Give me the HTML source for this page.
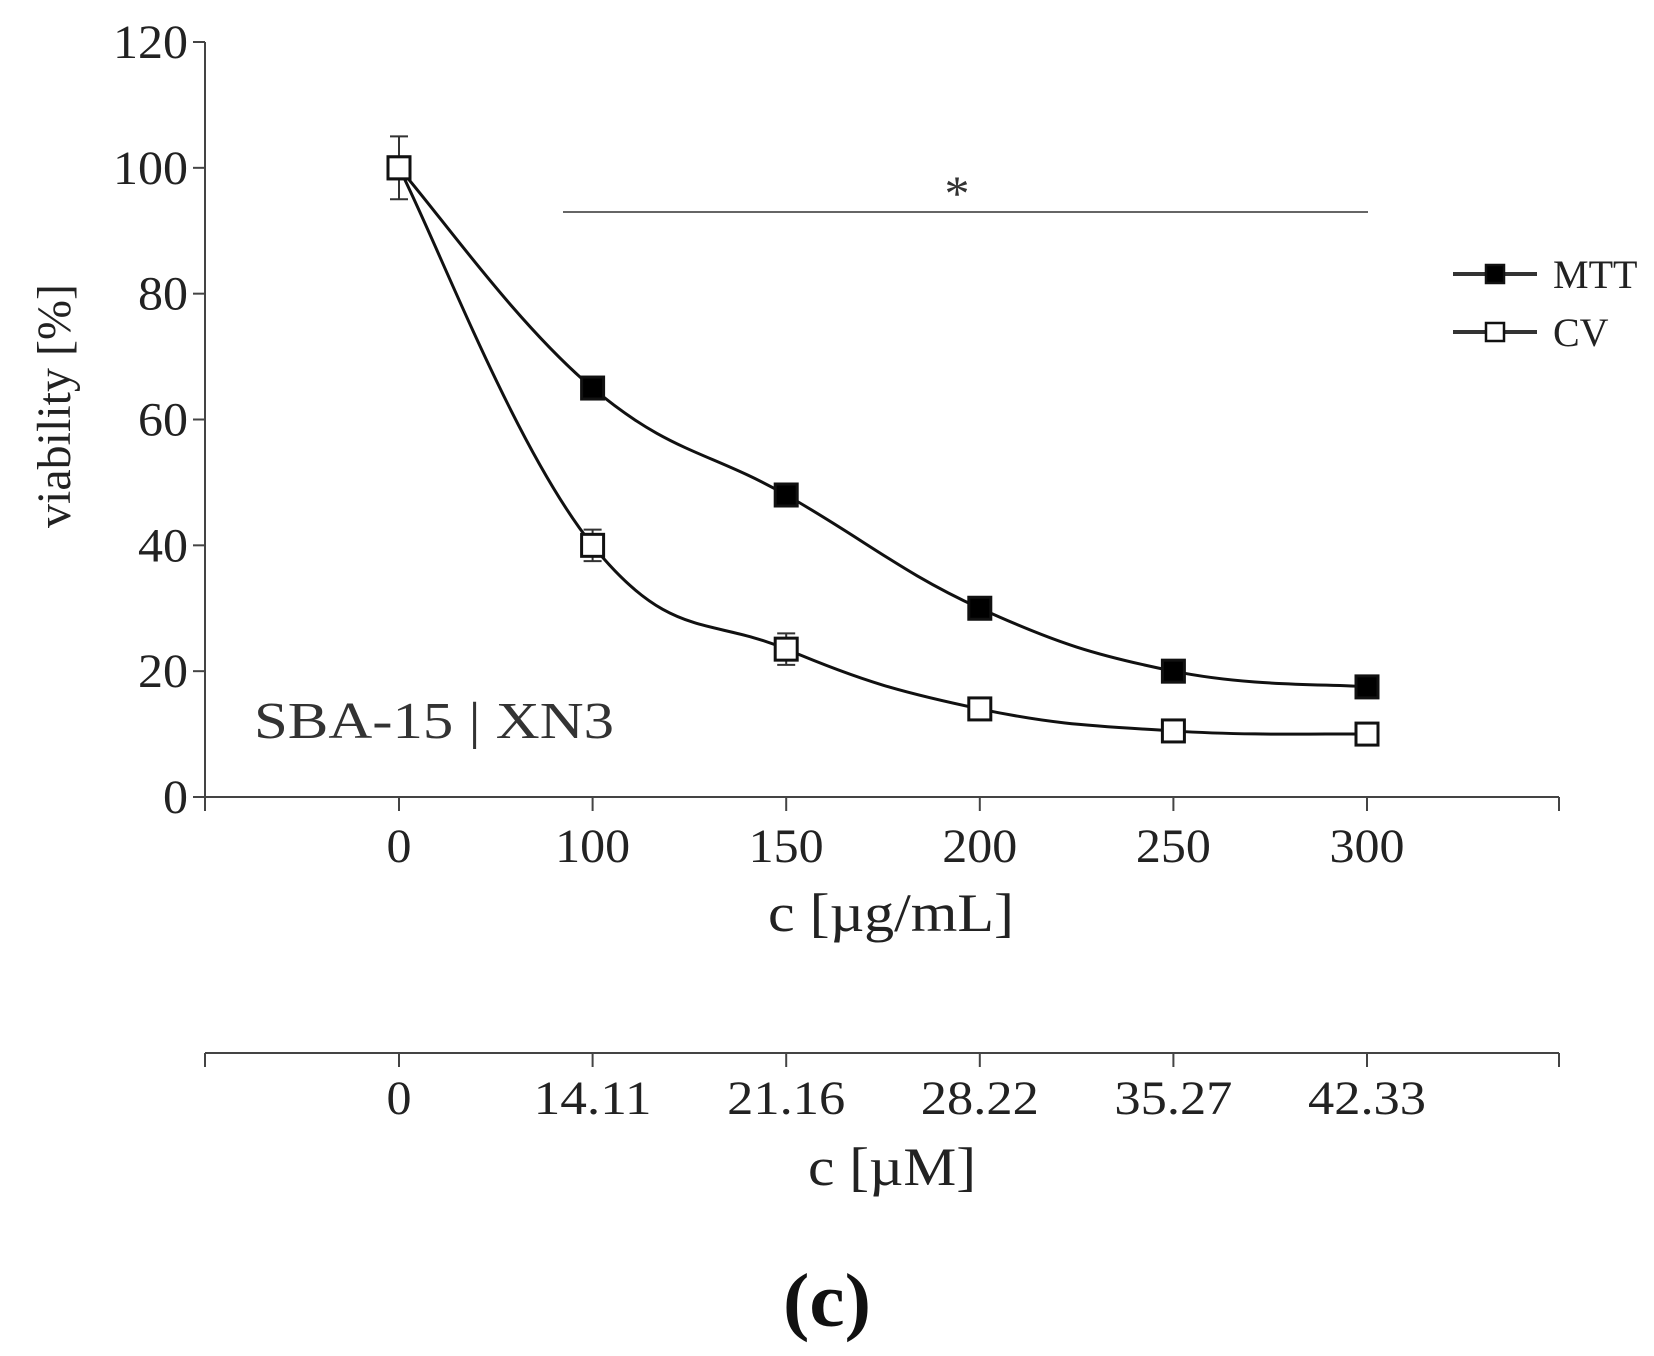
<!DOCTYPE html>
<html><head><meta charset="utf-8"><style>
html,body{margin:0;padding:0;background:#fff;}
svg{display:block;font-family:"Liberation Serif",serif;}
</style></head><body>
<svg id="chart" width="1654" height="1356" viewBox="0 0 1654 1356"></svg>
<script>
const categories = ["0","100","150","200","250","300"];
const micromolarLabels = ["0","14.11","21.16","28.22","35.27","42.33"];
const mttValues = [100, 65, 48, 30, 20, 17.5];
const mttErrors = [0, 1, 1, 1, 1, 1];
const cvValues = [100, 40, 23.5, 14, 10.5, 10];
const cvErrors = [5, 2.5, 2.5, 1, 1, 1];
const yTicks = [0, 20, 40, 60, 80, 100, 120];

const NS = "http://www.w3.org/2000/svg";
const svg = document.getElementById("chart");
const X0 = 205, X1 = 1559, Y0 = 797, Y120 = 42;
const xs = i => 399 + i * 193.6;
const ys = v => Y0 - (v / 120) * (Y0 - Y120);
function mk(tag, attrs, parent) {
  const e = document.createElementNS(NS, tag);
  for (const k in attrs) e.setAttribute(k, attrs[k]);
  (parent || svg).appendChild(e);
  return e;
}
function txt(s, attrs) { const t = mk("text", attrs); t.textContent = s; return t; }

const yAxis = mk("g", {});


mk("line", {x1: X0, y1: Y120, x2: X0, y2: Y0, stroke: "#444", "stroke-width": 2}, yAxis);
yTicks.forEach(v => {
  mk("line", {x1: X0 - 12, y1: ys(v), x2: X0, y2: ys(v), stroke: "#444", "stroke-width": 2}, yAxis);
  const t = txt(String(v), {x: X0 - 17, y: ys(v) + 16, "text-anchor": "end", "font-size": 48, fill: "#222", textLength: String(v).length * 25, lengthAdjust: "spacingAndGlyphs"});
  
  
});
const yl = txt("viability [%]", {x: 0, y: 0, transform: "translate(70,406) rotate(-90)", "text-anchor": "middle", "font-size": 48, fill: "#222"});



const xAxis = mk("g", {});


mk("line", {x1: X0, y1: Y0, x2: X1, y2: Y0, stroke: "#444", "stroke-width": 2}, xAxis);
[X0, X1].forEach(x => mk("line", {x1: x, y1: Y0, x2: x, y2: Y0 + 14, stroke: "#444", "stroke-width": 2}, xAxis));
categories.forEach((c, i) => {
  mk("line", {x1: xs(i), y1: Y0, x2: xs(i), y2: Y0 + 14, stroke: "#444", "stroke-width": 2}, xAxis);
  const t = txt(c, {x: xs(i), y: 862, "text-anchor": "middle", "font-size": 48, fill: "#222", textLength: c.length * 25, lengthAdjust: "spacingAndGlyphs"});
  
  
});
const xt = txt("c [µg/mL]", {x: 891, y: 931, "text-anchor": "middle", "font-size": 54, fill: "#222", textLength: 246, lengthAdjust: "spacingAndGlyphs"});



const Y2 = 1053;
const xAxis2 = mk("g", {});


mk("line", {x1: X0, y1: Y2, x2: X1, y2: Y2, stroke: "#444", "stroke-width": 2}, xAxis2);
[X0, X1].forEach(x => mk("line", {x1: x, y1: Y2, x2: x, y2: Y2 + 14, stroke: "#444", "stroke-width": 2}, xAxis2));
micromolarLabels.forEach((c, i) => {
  mk("line", {x1: xs(i), y1: Y2, x2: xs(i), y2: Y2 + 14, stroke: "#444", "stroke-width": 2}, xAxis2);
  const t = txt(c, {x: xs(i), y: 1114, "text-anchor": "middle", "font-size": 48, fill: "#222", textLength: c.length === 1 ? 25 : 118, lengthAdjust: "spacingAndGlyphs"});
  
  
});
const xt2 = txt("c [µM]", {x: 892, y: 1185, "text-anchor": "middle", "font-size": 54, fill: "#222", textLength: 168, lengthAdjust: "spacingAndGlyphs"});



const sig = mk("line", {x1: 563, y1: 212, x2: 1368, y2: 212, stroke: "#666", "stroke-width": 2});


const star = txt("*", {x: 957, y: 210, "text-anchor": "middle", "font-size": 50, fill: "#333"});



const lab = txt("SBA-15 | XN3", {x: 254, y: 738, "font-size": 52, fill: "#333", textLength: 360, lengthAdjust: "spacingAndGlyphs"});



function smoothPath(vals) {
  const p = vals.map((v, i) => [xs(i), ys(v)]);
  let d = `M${p[0][0]},${p[0][1]}`;
  for (let i = 0; i < p.length - 1; i++) {
    const p0 = p[i - 1] || p[i], p1 = p[i], p2 = p[i + 1], p3 = p[i + 2] || p2;
    const t = 0.2;
    const c1 = [p1[0] + (p2[0] - p0[0]) * t, p1[1] + (p2[1] - p0[1]) * t];
    const c2 = [p2[0] - (p3[0] - p1[0]) * t, p2[1] - (p3[1] - p1[1]) * t];
    d += ` C${c1[0]},${c1[1]} ${c2[0]},${c2[1]} ${p2[0]},${p2[1]}`;
  }
  return d;
}
function series(vals, errs, fill, name) {
  const g = mk("g", {});
  
  
  mk("path", {d: smoothPath(vals), fill: "none", stroke: "#111", "stroke-width": 3}, g);
  vals.forEach((v, i) => {
    const e = errs[i];
    if (e > 0) {
      mk("line", {x1: xs(i), y1: ys(v + e), x2: xs(i), y2: ys(v - e), stroke: "#333", "stroke-width": 2}, g);
      mk("line", {x1: xs(i) - 9, y1: ys(v + e), x2: xs(i) + 9, y2: ys(v + e), stroke: "#333", "stroke-width": 2}, g);
      mk("line", {x1: xs(i) - 9, y1: ys(v - e), x2: xs(i) + 9, y2: ys(v - e), stroke: "#333", "stroke-width": 2}, g);
    }
    const r = mk("rect", {x: xs(i) - 11, y: ys(v) - 11, width: 22, height: 22, fill: fill, stroke: "#111", "stroke-width": 3}, g);
    
    
  });
}
series(mttValues, mttErrors, "#000", "mtt");
series(cvValues, cvErrors, "#fff", "cv");

function legend(y, fill, label, name) {
  const g = mk("g", {});
  
  
  mk("line", {x1: 1453, y1: y, x2: 1537, y2: y, stroke: "#333", "stroke-width": 4}, g);
  mk("rect", {x: 1486, y: y - 9, width: 18, height: 18, fill: fill, stroke: "#111", "stroke-width": 2.5}, g);
  const t = mk("text", {x: 1553, y: y + 14, "font-size": 40, fill: "#222"}, g);
  t.textContent = label;
}
legend(274, "#000", "MTT", "mtt");
legend(332, "#fff", "CV", "cv");

const cap = txt("(c)", {x: 827, y: 1326, "text-anchor": "middle", "font-size": 76, "font-weight": "bold", fill: "#111", textLength: 88, lengthAdjust: "spacingAndGlyphs"});


</script>
</body></html>
